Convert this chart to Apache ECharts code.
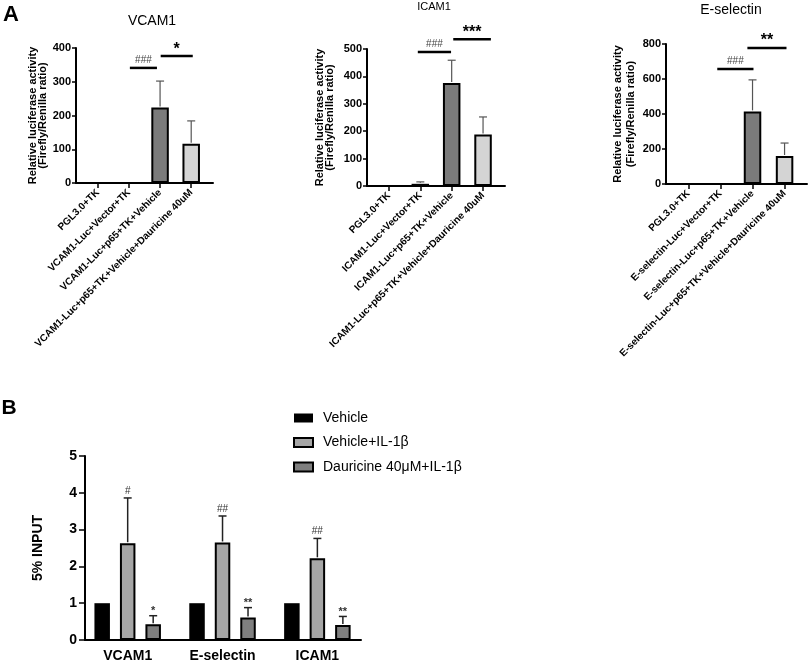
<!DOCTYPE html>
<html><head><meta charset="utf-8">
<script src="https://cdn.jsdelivr.net/npm/echarts@6/dist/echarts.min.js"></script>
<style>html,body{margin:0;padding:0;background:#fff}#c{width:809px;height:664px}</style>
</head><body><div id="c"></div>
<script>
// ---------- Panel A data ----------
const vcamCats = ['PGL3.0+TK','VCAM1-Luc+Vector+TK','VCAM1-Luc+p65+TK+Vehicle','VCAM1-Luc+p65+TK+Vehicle+Dauricine 40uM'];
const icamCats = ['PGL3.0+TK','ICAM1-Luc+Vector+TK','ICAM1-Luc+p65+TK+Vehicle','ICAM1-Luc+p65+TK+Vehicle+Dauricine 40uM'];
const eselCats = ['PGL3.0+TK','E-selectin-Luc+Vector+TK','E-selectin-Luc+p65+TK+Vehicle','E-selectin-Luc+p65+TK+Vehicle+Dauricine 40uM'];
const vcamMean = [0, 0, 224, 116];
const vcamErr  = [0, 0, 302, 184];
const icamMean = [0, 8, 376, 188];
const icamErr  = [0, 15, 459, 252];
const eselMean = [0, 0, 415, 160];
const eselErr  = [0, 0, 595, 234];
const vcamTicks = [0, 100, 200, 300, 400];
const icamTicks = [0, 100, 200, 300, 400, 500];
const eselTicks = [0, 200, 400, 600, 800];
// significance brackets: [from category, to category, value, text] (category positions 0..3)
const vcamSig = [[1.03, 1.9, 341, '###'], [2.02, 3.05, 376, '*']];
const icamSig = [[0.92, 1.98, 489, '###'], [2.05, 3.25, 536, '***']];
const eselSig = [[0.9, 2.03, 657, '###'], [1.84, 3.06, 777, '**']];

// ---------- Panel B data ----------
const bCats = ['VCAM1', 'E-selectin', 'ICAM1'];
const bNames = ['Vehicle', 'Vehicle+IL-1β', 'Dauricine 40μM+IL-1β'];
const bVehicle = [1, 1, 1];
const bIL = [2.63, 2.65, 2.22];
const bILErr = [3.86, 3.37, 2.76];
const bILSig = ['#', '##', '##'];
const bDau = [0.43, 0.61, 0.41];
const bDauErr = [0.66, 0.88, 0.64];
const bDauSig = ['*', '**', '**'];
const bTicks = [0, 1, 2, 3, 4, 5];

const FONT = 'Liberation Sans, Arial, Helvetica, sans-serif';
const barColorsA = ['#ffffff', '#6f6f6f', '#7b7b7b', '#d4d4d4'];
const barWidthA = 17.5;
const barWidthB = 15.5;
const barGapB = 0.645;
const SH = 1; // category k is placed at position k + SH on the x value axis

const chart = echarts.init(document.getElementById('c'), null, {renderer: 'canvas'});

const gridsA = [
  {left: 76, top: 48, width: 137, height: 135},
  {left: 367, top: 49, width: 138, height: 137},
  {left: 666, top: 44, width: 141, height: 140}
];
const panelsA = [
  {cats: vcamCats, mean: vcamMean, err: vcamErr, ticks: vcamTicks, sig: vcamSig, nameGap: 27, lh: 10},
  {cats: icamCats, mean: icamMean, err: icamErr, ticks: icamTicks, sig: icamSig, nameGap: 32, lh: 10},
  {cats: eselCats, mean: eselMean, err: eselErr, ticks: eselTicks, sig: eselSig, nameGap: 29, lh: 13}
];
const catPos = n => Array.from({length: n}, (_, k) => k + SH);

const grid = [], xAxis = [], yAxis = [], series = [];

panelsA.forEach((p, i) => {
  grid.push(Object.assign({outerBoundsMode: 'none', containLabel: false}, gridsA[i]));
  xAxis.push({
    type: 'value', gridIndex: i, min: SH - 0.7, max: SH + 3.7,
    axisLine: {show: true, onZero: false, lineStyle: {color: '#000', width: 2}},
    axisTick: {show: true, customValues: catPos(4), length: 5, inside: false, lineStyle: {color: '#000', width: 1.5}},
    axisLabel: {show: true, customValues: catPos(4), rotate: 45, margin: 8,
      formatter: v => p.cats[Math.round(v - SH)], fontSize: 10, fontWeight: 'bold', color: '#000', fontFamily: FONT},
    splitLine: {show: false}
  });
  const tk = p.ticks;
  yAxis.push({
    type: 'value', gridIndex: i, min: tk[0], max: tk[tk.length - 1], interval: tk[1] - tk[0],
    axisLine: {show: true, onZero: false, lineStyle: {color: '#000', width: 2}},
    axisTick: {show: true, length: 4, inside: false, lineStyle: {color: '#000', width: 1.5}},
    axisLabel: {fontSize: 11, fontWeight: 'bold', color: '#000', margin: 5, fontFamily: FONT},
    splitLine: {show: false},
    name: 'Relative luciferase activity\n(Firefly/Renilla ratio)',
    nameLocation: 'middle', nameGap: p.nameGap,
    nameTextStyle: {fontSize: 11, fontWeight: 'bold', color: '#000', lineHeight: p.lh, fontFamily: FONT}
  });
  series.push({
    type: 'bar', xAxisIndex: i, yAxisIndex: i, barWidth: barWidthA, silent: true,
    data: p.mean.map((v, k) => ({value: [k + SH, v], itemStyle: {color: barColorsA[k]}})),
    itemStyle: {borderColor: '#000', borderWidth: 2}, z: 2
  });
  series.push({
    type: 'custom', xAxisIndex: i, yAxisIndex: i, clip: false, silent: true, z: 3,
    data: p.mean.map((v, k) => [k + SH, v, p.err[k]]),
    renderItem: (params, api) => {
      const x = api.value(0), y1 = api.value(1), y2 = api.value(2);
      if (!(y2 > y1)) return {type: 'group', children: []};
      const a = api.coord([x, y1]), b = api.coord([x, y2]);
      return {type: 'group', children: [
        {type: 'line', shape: {x1: a[0], y1: a[1] - 1, x2: b[0], y2: b[1]}, style: {stroke: '#555', lineWidth: 1.2}},
        {type: 'line', shape: {x1: b[0] - 4, y1: b[1], x2: b[0] + 4, y2: b[1]}, style: {stroke: '#555', lineWidth: 1.2}}
      ]};
    }
  });
  series.push({
    type: 'custom', xAxisIndex: i, yAxisIndex: i, clip: false, silent: true, z: 4,
    data: p.sig.map(s => [s[0] + SH, s[2], s[1] + SH]),
    renderItem: (params, api) => {
      const s = p.sig[params.dataIndex];
      const a = api.coord([api.value(0), api.value(1)]);
      const b = api.coord([api.value(2), api.value(1)]);
      const isHash = s[3].indexOf('#') >= 0;
      return {type: 'group', children: [
        {type: 'line', shape: {x1: a[0], y1: a[1], x2: b[0], y2: b[1]}, style: {stroke: '#000', lineWidth: 2.5}},
        {type: 'text', x: (a[0] + b[0]) / 2, y: isHash ? a[1] - 3 : a[1] + 1,
          style: {text: s[3], fill: isHash ? '#444' : '#000', font: (isHash ? 'normal 10px ' : 'bold 16px ') + FONT,
            align: 'center', verticalAlign: 'bottom', textAlign: 'center', textVerticalAlign: 'bottom'}}
      ]};
    }
  });
});

// ---------- Panel B ----------
const gi = 3;
grid.push({left: 85, top: 456, width: 276, height: 184, outerBoundsMode: 'none', containLabel: false});
xAxis.push({
  type: 'value', gridIndex: gi, min: SH - 0.45, max: SH + 2.46,
  axisLine: {show: true, onZero: false, lineStyle: {color: '#000', width: 2}},
  axisTick: {show: false},
  axisLabel: {show: true, customValues: catPos(3), margin: 9, formatter: v => bCats[Math.round(v - SH)],
    fontSize: 14, fontWeight: 'bold', color: '#000', fontFamily: FONT},
  splitLine: {show: false}
});
yAxis.push({
  type: 'value', gridIndex: gi, min: bTicks[0], max: bTicks[bTicks.length - 1], interval: bTicks[1] - bTicks[0],
  axisLine: {show: true, onZero: false, lineStyle: {color: '#000', width: 2}},
  axisTick: {show: true, length: 6, inside: false, lineStyle: {color: '#000', width: 1.5}},
  axisLabel: {fontSize: 14, fontWeight: 'bold', color: '#000', margin: 8, fontFamily: FONT},
  splitLine: {show: false},
  name: '5% INPUT', nameLocation: 'middle', nameGap: 40,
  nameTextStyle: {fontSize: 14, fontWeight: 'bold', color: '#000', fontFamily: FONT}
});
const bValues = [bVehicle, bIL, bDau];
const bErrs = [null, bILErr, bDauErr];
const bSigs = [null, bILSig, bDauSig];
const bFill = ['#000000', '#a6a6a6', '#7f7f7f'];
bValues.forEach((vals, s) => {
  series.push({
    type: 'bar', name: bNames[s], xAxisIndex: gi, yAxisIndex: gi, barWidth: barWidthB, barGap: (barGapB * 100) + '%',
    silent: true, z: 2,
    data: vals.map((v, k) => [k + SH, v]),
    itemStyle: {color: bFill[s], borderColor: '#000', borderWidth: s === 0 ? 0 : 2}
  });
});
[1, 2].forEach(s => {
  const off = (s - 1) * barWidthB * (1 + barGapB);
  series.push({
    type: 'custom', xAxisIndex: gi, yAxisIndex: gi, clip: false, silent: true, z: 3,
    data: bValues[s].map((v, k) => [k + SH, v, bErrs[s][k]]),
    renderItem: (params, api) => {
      const a = api.coord([api.value(0), api.value(1)]);
      const b = api.coord([api.value(0), api.value(2)]);
      const x = a[0] + off;
      const t = bSigs[s][params.dataIndex];
      return {type: 'group', children: [
        {type: 'line', shape: {x1: x, y1: a[1] - 1, x2: x, y2: b[1]}, style: {stroke: '#222', lineWidth: 1.5}},
        {type: 'line', shape: {x1: x - 4, y1: b[1], x2: x + 4, y2: b[1]}, style: {stroke: '#222', lineWidth: 1.5}},
        {type: 'text', x: x, y: t.indexOf('#') >= 0 ? b[1] - 2 : b[1] + 1,
          style: {text: t, fill: '#333', font: (t.indexOf('#') >= 0 ? 'normal 10px ' : 'bold 11px ') + FONT,
            align: 'center', verticalAlign: 'bottom', textAlign: 'center', textVerticalAlign: 'bottom'}}
      ]};
    }
  });
});

function label(text, x, y, font) {
  return {type: 'text', x: x, y: y, silent: true,
    style: {text: text, font: font, fill: '#000', align: 'center', verticalAlign: 'middle', textAlign: 'center', textVerticalAlign: 'middle'}};
}

chart.setOption({
  animation: false,
  backgroundColor: '#fff',
  textStyle: {fontFamily: FONT},
  grid: grid, xAxis: xAxis, yAxis: yAxis, series: series,
  legend: {
    data: bNames, orient: 'vertical', left: 293, top: 411, padding: 0, itemWidth: 19, itemHeight: 9, itemGap: 10.5,
    textStyle: {fontSize: 14, color: '#000', fontFamily: FONT, padding: [0, 0, 0, 5]},
    selectedMode: false, icon: 'rect'
  },
  graphic: [
    label('A', 11, 15, 'bold 22px ' + FONT),
    label('B', 9, 408, 'bold 21px ' + FONT),
    label('VCAM1', 152, 21, 'normal 14px ' + FONT),
    label('ICAM1', 434, 7, 'normal 11px ' + FONT),
    label('E-selectin', 731, 10, 'normal 14px ' + FONT)
  ]
});
</script></body></html>
